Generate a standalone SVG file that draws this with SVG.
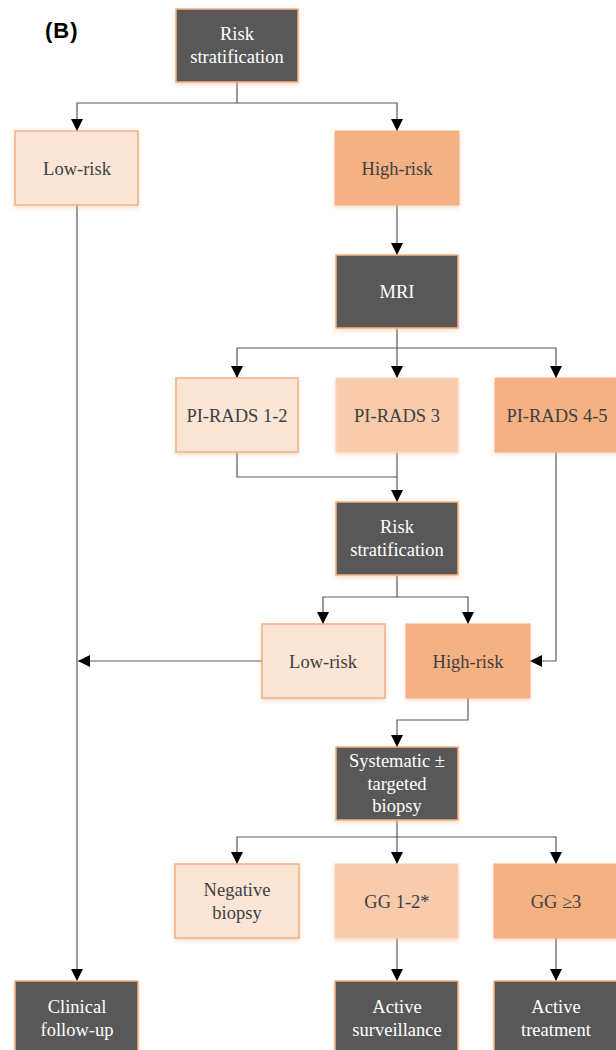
<svg xmlns="http://www.w3.org/2000/svg" width="616" height="1050" viewBox="0 0 616 1050">
<style>
.t{font-family:"Liberation Serif","Times New Roman",serif;font-size:18.5px;text-anchor:middle}
.dk rect{fill:#595959;stroke:#f4b183;stroke-width:1.5}
.dk text{fill:#ffffff}
.l1 rect{fill:#fbe5d6;stroke:#f4b183;stroke-width:1.5}
.l2 rect{fill:#f8cbad;stroke:#fad6bd;stroke-width:1}
.l3 rect{fill:#f4b183;stroke:#f4b183;stroke-width:1}
.l1 text,.l2 text,.l3 text{fill:#404040}
.c path{fill:none;stroke:#595959;stroke-width:1.2}
.lab{font-family:"Liberation Sans",Arial,sans-serif;font-weight:bold;font-size:22px;letter-spacing:1px;fill:#000}
</style>
<defs>
<filter id="sh" x="-10%" y="-10%" width="120%" height="130%">
<feDropShadow dx="0" dy="2" stdDeviation="2" flood-color="#f4b183" flood-opacity="0.45"/>
</filter>
<marker id="ar" markerUnits="userSpaceOnUse" markerWidth="12" markerHeight="12" refX="12" refY="6" orient="auto">
<path d="M0,0 L12,6 L0,12 z" fill="#000"/>
</marker>
</defs>
<text class="lab" x="45" y="38">(B)</text>
<g class="c">
<path d="M237,82 V103 H77 V131" marker-end="url(#ar)"/>
<path d="M237,103 H397 V131" marker-end="url(#ar)"/>
<path d="M397,205 V255" marker-end="url(#ar)"/>
<path d="M397,328 V348 H237 V378" marker-end="url(#ar)"/>
<path d="M397,348 V378" marker-end="url(#ar)"/>
<path d="M397,348 H556 V378" marker-end="url(#ar)"/>
<path d="M237,452 V477 H397"/>
<path d="M397,452 V502" marker-end="url(#ar)"/>
<path d="M397,575 V597 H323 V624" marker-end="url(#ar)"/>
<path d="M397,597 H468 V624" marker-end="url(#ar)"/>
<path d="M262,661 H78" marker-end="url(#ar)"/>
<path d="M556,452 V661 H530" marker-end="url(#ar)"/>
<path d="M468,698 V720 H397 V747" marker-end="url(#ar)"/>
<path d="M397,820 V837 H237 V864" marker-end="url(#ar)"/>
<path d="M397,837 V864" marker-end="url(#ar)"/>
<path d="M397,837 H556 V864" marker-end="url(#ar)"/>
<path d="M397,938 V981" marker-end="url(#ar)"/>
<path d="M556,938 V981" marker-end="url(#ar)"/>
<path d="M77,205 V981" marker-end="url(#ar)"/>
</g>
<g id="risk1" class="dk"><rect x="176" y="9" width="122" height="73" filter="url(#sh)"/><text class="t" x="237" y="40">Risk</text><text class="t" x="237" y="63">stratification</text></g>
<g id="low1" class="l1"><rect x="15" y="131" width="123" height="74" filter="url(#sh)"/><text class="t" x="77" y="174.5">Low-risk</text></g>
<g id="high1" class="l3"><rect x="335" y="131" width="124" height="74" filter="url(#sh)"/><text class="t" x="397" y="174.5">High-risk</text></g>
<g id="mri" class="dk"><rect x="336" y="255" width="122" height="73" filter="url(#sh)"/><text class="t" x="397" y="298">MRI</text></g>
<g id="pr12" class="l1"><rect x="176" y="378" width="122" height="74" filter="url(#sh)"/><text class="t" x="237" y="421.5">PI-RADS 1-2</text></g>
<g id="pr3" class="l2"><rect x="336" y="378" width="122" height="74" filter="url(#sh)"/><text class="t" x="397" y="421.5">PI-RADS 3</text></g>
<g id="pr45" class="l3"><rect x="495" y="378" width="124" height="74" filter="url(#sh)"/><text class="t" x="557" y="421.5">PI-RADS 4-5</text></g>
<g id="risk2" class="dk"><rect x="336" y="502" width="122" height="73" filter="url(#sh)"/><text class="t" x="397" y="533">Risk</text><text class="t" x="397" y="556">stratification</text></g>
<g id="low2" class="l1"><rect x="262" y="624" width="123" height="74" filter="url(#sh)"/><text class="t" x="323" y="667.5">Low-risk</text></g>
<g id="high2" class="l3"><rect x="406" y="624" width="124" height="74" filter="url(#sh)"/><text class="t" x="468" y="667.5">High-risk</text></g>
<g id="biopsy" class="dk"><rect x="336" y="747" width="122" height="73" filter="url(#sh)"/><text class="t" x="397" y="767">Systematic ±</text><text class="t" x="397" y="790">targeted</text><text class="t" x="397" y="812">biopsy</text></g>
<g id="neg" class="l1"><rect x="175" y="864" width="124" height="74" filter="url(#sh)"/><text class="t" x="237" y="896">Negative</text><text class="t" x="237" y="919">biopsy</text></g>
<g id="gg12" class="l2"><rect x="335" y="864" width="123" height="74" filter="url(#sh)"/><text class="t" x="397" y="907.5">GG 1-2*</text></g>
<g id="gg3" class="l3"><rect x="494" y="864" width="124" height="74" filter="url(#sh)"/><text class="t" x="556" y="907.5">GG ≥3</text></g>
<g id="clin" class="dk"><rect x="15" y="981" width="123" height="74" filter="url(#sh)"/><text class="t" x="77" y="1013">Clinical</text><text class="t" x="77" y="1036">follow-up</text></g>
<g id="as" class="dk"><rect x="335" y="981" width="123" height="74" filter="url(#sh)"/><text class="t" x="397" y="1013">Active</text><text class="t" x="397" y="1036">surveillance</text></g>
<g id="at" class="dk"><rect x="494" y="981" width="124" height="74" filter="url(#sh)"/><text class="t" x="556" y="1013">Active</text><text class="t" x="556" y="1036">treatment</text></g>
</svg>
